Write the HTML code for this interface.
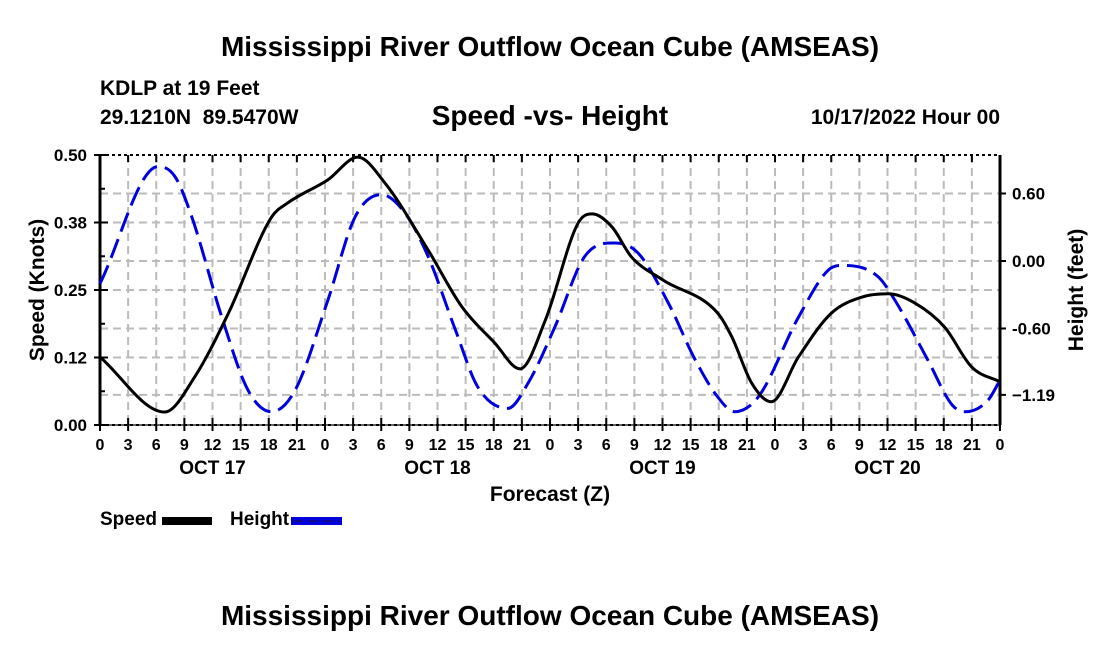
<!DOCTYPE html>
<html><head><meta charset="utf-8"><style>
body{margin:0;background:#fff;}
svg text{font-family:"Liberation Sans",sans-serif;font-weight:bold;fill:#000;}
</style></head><body>
<svg width="1100" height="650" xmlns="http://www.w3.org/2000/svg">
<text x="550" y="56" font-size="28" text-anchor="middle">Mississippi River Outflow Ocean Cube (AMSEAS)</text>
<text x="100" y="95" font-size="21">KDLP at 19 Feet</text>
<text x="100" y="124" font-size="21">29.1210N&#160;&#160;89.5470W</text>
<text x="550" y="125" font-size="28" text-anchor="middle">Speed -vs- Height</text>
<text x="1000" y="124" font-size="21" text-anchor="end">10/17/2022 Hour 00</text>
<g id="grid"></g>
<g id="axes"></g>
<g id="series"></g>
<text x="550" y="501" font-size="21" text-anchor="middle">Forecast (Z)</text>
<text transform="translate(44,290) rotate(-90)" font-size="21" text-anchor="middle">Speed (Knots)</text>
<text transform="translate(1083,290) rotate(-90)" font-size="21" text-anchor="middle">Height (feet)</text>
<g><text x="100" y="525" font-size="19">Speed</text><rect x="162" y="517" width="50" height="8" fill="#000"/></g>
<g><text x="230" y="525" font-size="19">Height</text><rect x="291" y="517" width="51" height="8" fill="#0000dd"/><line x1="293" y1="521" x2="340" y2="521" stroke="#0a0a8a" stroke-width="2" stroke-dasharray="10 5"/></g>
<text x="550" y="625" font-size="28" text-anchor="middle">Mississippi River Outflow Ocean Cube (AMSEAS)</text>
</svg>
<script>
const speedHours=[0,6.9,10.1,13.7,18.3,20,24.3,27.5,30.4,35,38.6,42.1,44.8,47.5,51,52.5,54.6,56.7,60,65.9,67.4,69.5,71.6,74.5,78,81.3,84.1,86.9,90.1,93,96];
const speedValues=[0.126,0.024,0.089,0.207,0.385,0.411,0.454,0.496,0.448,0.324,0.219,0.152,0.104,0.194,0.374,0.391,0.367,0.311,0.269,0.207,0.163,0.078,0.043,0.126,0.207,0.237,0.243,0.226,0.181,0.107,0.080];
const heightHours=[0,6.2,8,9.8,13,15.8,18.3,20.8,24.3,27.2,30,32.5,35,37.9,40.3,43.5,45.7,48.5,51.7,55,57.4,60.6,63.5,65.9,67.7,70.2,74.5,77.7,79.5,83,84.8,88.3,90.9,92.3,94.7,96];
const heightValues=[-0.20,0.84,0.75,0.39,-0.50,-1.15,-1.34,-1.15,-0.35,0.39,0.59,0.43,0.04,-0.61,-1.12,-1.31,-1.08,-0.59,0.04,0.16,0.07,-0.37,-0.88,-1.21,-1.34,-1.21,-0.50,-0.08,-0.04,-0.14,-0.35,-0.88,-1.28,-1.34,-1.24,-1.06];
const leftTicks=[0,0.125,0.25,0.375,0.5];
const leftTickLabels=["0.00","0.12","0.25","0.38","0.50"];
const rightTicks=[0.6,0,-0.6,-1.19];
const rightTickLabels=["0.60","0.00","-0.60","\u22121.19"];
const dayLabels=["OCT 17","OCT 18","OCT 19","OCT 20"];

const X0=100,X1=1000,Y0=155,Y1=425;
const xs=h=>X0+(h/96)*(X1-X0);
const ysL=v=>Y1-(v/0.5)*(Y1-Y0);
const ysR=v=>261-v*112.5;
const NS="http://www.w3.org/2000/svg";
function mk(t,a,parent){const e=document.createElementNS(NS,t);for(const k in a)e.setAttribute(k,a[k]);parent.appendChild(e);return e;}
const grid=document.getElementById('grid'),axes=document.getElementById('axes'),series=document.getElementById('series');
const gs={stroke:"#bbb","stroke-width":2,"stroke-dasharray":"8 5"};
for(let h=3;h<96;h+=3){const l=mk('line',Object.assign({x1:xs(h),x2:xs(h),y1:Y0,y2:Y1},gs),grid);

}
leftTicks.slice(1,4).forEach(v=>{const l=mk('line',Object.assign({x1:X0,x2:X1,y1:ysL(v),y2:ysL(v)},gs),grid);

});
rightTicks.forEach(v=>{const l=mk('line',Object.assign({x1:X0,x2:X1,y1:ysR(v),y2:ysR(v)},gs),grid);

});
mk('line',{x1:X0,x2:X0,y1:Y0,y2:Y1,stroke:"#000","stroke-width":3},axes);
mk('line',{x1:X1,x2:X1,y1:Y0,y2:Y1,stroke:"#000","stroke-width":3},axes);
mk('line',{x1:X0,x2:X1,y1:Y1,y2:Y1,stroke:"#666","stroke-width":2},axes);
mk('line',{x1:X0,x2:X1,y1:Y1,y2:Y1,stroke:"#000","stroke-width":2,"stroke-dasharray":"3 3"},axes);
mk('line',{x1:X0,x2:X1,y1:Y0,y2:Y0,stroke:"#000","stroke-width":2,"stroke-dasharray":"3 3"},axes);
for(let h=0;h<=96;h+=3){const x=xs(h);
mk('line',{x1:x,x2:x,y1:Y1+6,y2:Y1-7,stroke:"#000","stroke-width":2},axes);
mk('line',{x1:x,x2:x,y1:Y0,y2:Y0+7,stroke:"#000","stroke-width":2},axes);
const t=mk('text',{x:x,y:450,"font-size":16,"text-anchor":"middle"},axes);t.textContent=String(h%24);

}
dayLabels.forEach((d,i)=>{const t=mk('text',{x:xs(12+24*i),y:474,"font-size":19,"text-anchor":"middle"},axes);t.textContent=d;

});
for(let v=0;v<=0.5001;v+=0.0625){mk('line',{x1:X0,x2:X0+(Math.round(v/0.0625)%2?5:8),y1:ysL(v),y2:ysL(v),stroke:"#000","stroke-width":2},axes);}
leftTicks.forEach((v,i)=>{mk('line',{x1:X0-6,x2:X0,y1:ysL(v),y2:ysL(v),stroke:"#000","stroke-width":2},axes);
const t=mk('text',{x:X0-13,y:ysL(v)+6,"font-size":17,"text-anchor":"end"},axes);t.textContent=leftTickLabels[i];

});
rightTicks.forEach((v,i)=>{mk('line',{x1:X1,x2:X1+6,y1:ysR(v),y2:ysR(v),stroke:"#000","stroke-width":2},axes);
const t=mk('text',{x:X1+12,y:ysR(v)+6,"font-size":17},axes);t.textContent=rightTickLabels[i];

});
function smooth(p){const n=p.length,d=[],m=[];
for(let i=0;i<n-1;i++)d.push((p[i+1][1]-p[i][1])/(p[i+1][0]-p[i][0]));
m[0]=d[0];m[n-1]=d[n-2];
for(let i=1;i<n-1;i++){m[i]=(d[i-1]*d[i]<=0)?0:(d[i-1]+d[i])/2;}
let s=`M${p[0][0]},${p[0][1]}`;
for(let i=0;i<n-1;i++){const h=(p[i+1][0]-p[i][0])/3;
s+=` C${p[i][0]+h},${p[i][1]+m[i]*h} ${p[i+1][0]-h},${p[i+1][1]-m[i+1]*h} ${p[i+1][0]},${p[i+1][1]}`;}
return s;}
const hp=mk('path',{d:smooth(heightHours.map((h,i)=>[xs(h),ysR(heightValues[i])])),fill:"none",stroke:"#0000dd","stroke-width":3,"stroke-dasharray":"20 8"},series);


const sp=mk('path',{d:smooth(speedHours.map((h,i)=>[xs(h),ysL(speedValues[i])])),fill:"none",stroke:"#000","stroke-width":3},series);


</script>
</body></html>
